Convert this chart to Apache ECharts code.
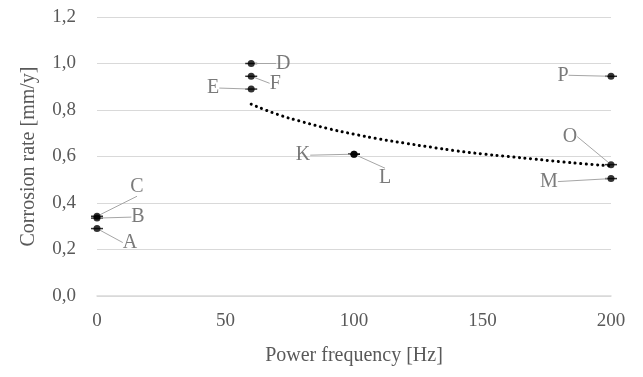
<!DOCTYPE html>
<html>
<head>
<meta charset="utf-8">
<script src="https://cdn.jsdelivr.net/npm/echarts@6/dist/echarts.min.js"></script>
<style>
  html, body { margin: 0; padding: 0; background: #fff; }
  #chart { width: 643px; height: 377px; }
</style>
</head>
<body>
<div id="chart"></div>
<script>
// measured points
const pointNames = ['A', 'B', 'C', 'D', 'E', 'F', 'K', 'L', 'M', 'O', 'P'];
const pointFreq = [0, 0, 0, 60, 60, 60, 100, 100, 200, 200, 200];
const pointRate = [0.29, 0.335, 0.343, 1.0, 0.89, 0.945, 0.61, 0.61, 0.505, 0.565, 0.945];

// dotted trend line
const trendFreq = [60, 70, 80, 90, 100, 110, 120, 130, 140, 150, 160, 170, 180, 190, 200];
const trendRate = [0.825, 0.782, 0.749, 0.72, 0.696, 0.675, 0.657, 0.64, 0.624, 0.611, 0.6, 0.589, 0.578, 0.568, 0.56];

const yTicks = [0, 0.2, 0.4, 0.6, 0.8, 1.0, 1.2];
const xTicks = [0, 50, 100, 150, 200];

// where each letter sits relative to its point (px)
const labelShift = {
  A: [33, 14], B: [41, -1], C: [40, -30],
  D: [32, 0], E: [-38, -1], F: [24, 7],
  K: [-51, 1], L: [31, 24],
  M: [-62, 3], O: [-41, -28], P: [-48, -1]
};

const FONT = 'Liberation Serif';
const GREY = '#595959';

const chart = echarts.init(document.getElementById('chart'));

const points = pointNames.map((n, i) => ({ name: n, value: [pointFreq[i], pointRate[i]] }));

const option = {
  backgroundColor: '#fff',
  animation: false,
  textStyle: { fontFamily: FONT },
  grid: { left: 97, right: 32, top: 17, bottom: 81 },
  xAxis: {
    type: 'value',
    min: xTicks[0],
    max: xTicks[xTicks.length - 1],
    interval: 50,
    name: 'Power frequency [Hz]',
    nameLocation: 'middle',
    nameGap: 50,
    nameTextStyle: { color: GREY, fontSize: 20, fontFamily: FONT },
    axisLine: { show: true, lineStyle: { color: '#d9d9d9', width: 1.5 } },
    axisTick: { show: false },
    axisLabel: { color: GREY, fontSize: 19, fontFamily: FONT, margin: 16 },
    splitLine: { show: false }
  },
  yAxis: {
    type: 'value',
    min: yTicks[0],
    max: yTicks[yTicks.length - 1],
    interval: 0.2,
    name: 'Corrosion rate [mm/y]',
    nameLocation: 'middle',
    nameGap: 58,
    nameTextStyle: { color: GREY, fontSize: 20, fontFamily: FONT },
    axisLine: { show: false },
    axisTick: { show: false },
    axisLabel: {
      color: GREY, fontSize: 19, fontFamily: FONT, margin: 21,
      formatter: v => v.toFixed(1).replace('.', ',')
    },
    splitLine: { lineStyle: { color: '#d9d9d9', width: 1 } }
  },
  series: [
    {
      type: 'line',
      data: trendFreq.map((f, i) => [f, trendRate[i]]),
      smooth: true,
      showSymbol: false,
      lineStyle: { color: '#000', width: 3, type: [0.1, 5.5], cap: 'round' },
      z: 2
    },
    {
      // small horizontal whiskers behind each dot
      type: 'scatter',
      data: points,
      symbol: 'rect',
      symbolSize: [12, 1.5],
      itemStyle: { color: '#000' },
      silent: true,
      z: 3
    },
    {
      type: 'scatter',
      data: points,
      symbol: 'circle',
      symbolSize: 7,
      itemStyle: { color: '#000' },
      label: {
        show: true,
        position: 'inside',
        formatter: p => p.name,
        color: GREY,
        fontSize: 20,
        fontFamily: FONT
      },
      labelLine: { show: true, lineStyle: { color: '#a6a6a6', width: 1 } },
      labelLayout: p => {
        const s = labelShift[pointNames[p.dataIndex]];
        return { dx: s[0], dy: s[1] };
      },
      z: 4
    }
  ]
};

chart.setOption(option);
</script>
</body>
</html>
